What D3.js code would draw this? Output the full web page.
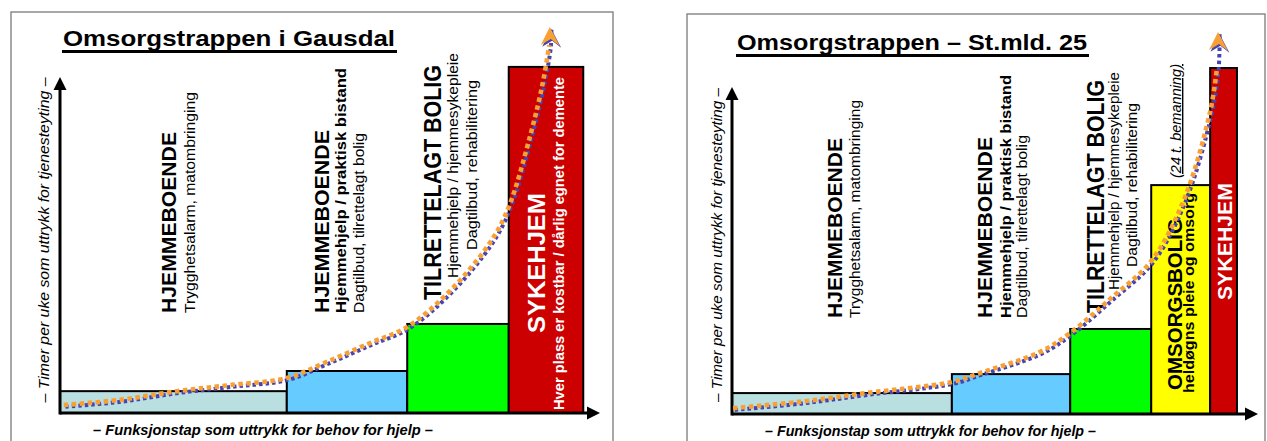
<!DOCTYPE html>
<html>
<head>
<meta charset="utf-8">
<script src="https://cdn.jsdelivr.net/npm/d3@7/dist/d3.min.js"></script>
<style>
  html, body { margin: 0; padding: 0; background: #fff; }
  svg { display: block; }
  text { font-family: "Liberation Sans", Arial, Helvetica, sans-serif; }
</style>
</head>
<body>
<div id="chart"></div>
<script>
// ---- Omsorgstrappen i Gausdal (four steps) ----
const gausdalSteps  = ["Hjemmeboende", "Hjemmeboende med hjemmehjelp", "Tilrettelagt bolig", "Sykehjem"];
const gausdalEdges  = [0, 42.0, 64.3, 83.1, 96.9];   // step boundaries, funksjonstap
const gausdalLevels = [6.5, 12.5, 26.5, 103.0];      // timer per uke (relative)
const gausdalTrendX = [0.7, 11.1, 21.7, 31.5, 42.0, 49.4, 57.4, 64.3, 72.0, 79.6, 83.1, 87.2, 89.4, 90.6, 90.7];
const gausdalTrendY = [2.4, 3.9, 6.5, 8.3, 10.4, 15.2, 20.8, 25.6, 36.0, 50.6, 61.3, 83.3, 98.2, 109.5, 114.9];

// ---- Omsorgstrappen – St.mld. 25 (five steps) ----
const stmldSteps  = ["Hjemmeboende", "Hjemmeboende med hjemmehjelp", "Tilrettelagt bolig", "Omsorgsbolig", "Sykehjem"];
const stmldEdges  = [0, 41.8, 64.3, 79.7, 90.9, 96.0];
const stmldLevels = [6.4, 12.2, 26.0, 70.0, 105.8];
const stmldTrendX = [0.2, 12.7, 25.5, 41.8, 47.1, 58.6, 64.3, 71.9, 79.7, 85.9, 90.9, 92.2, 92.4];
const stmldTrendY = [1.8, 3.7, 6.4, 9.8, 12.5, 19.0, 24.8, 35.2, 46.8, 65.4, 92.4, 105.8, 116.8];

const stepColors = {
  "Hjemmeboende": "#b9dfe1",
  "Hjemmeboende med hjemmehjelp": "#66ccff",
  "Tilrettelagt bolig": "#00ff00",
  "Omsorgsbolig": "#ffff00",
  "Sykehjem": "#cc0000"
};

const W = 1267, H = 441;
const svg = d3.select("#chart").append("svg")
  .attr("width", W).attr("height", H)
  .attr("viewBox", `0 0 ${W} ${H}`);
svg.append("rect").attr("width", W).attr("height", H).attr("fill", "#fff");

// Rotated (bottom-to-top) text helper
function vtext(g, o) {
  const t = g.append("text")
    .attr("transform", `translate(${o.x},${o.y}) rotate(-90)`)
    .attr("text-anchor", o.anchor || "start")
    .attr("font-size", o.size)
    .attr("font-weight", o.weight || "normal")
    .attr("font-style", o.style || "normal")
    .attr("fill", o.fill || "#000")
    .text(o.text);
  if (o.len) t.attr("textLength", o.len).attr("lengthAdjust", "spacingAndGlyphs");
  if (o.underline) t.attr("text-decoration", "underline");
  return t;
}

function drawPanel(p) {
  const g = svg.append("g");

  // frame
  g.append("rect")
    .attr("x", p.frame[0]).attr("y", p.frame[1])
    .attr("width", p.frame[2]).attr("height", p.frame[3])
    .attr("fill", "none").attr("stroke", "#7a7a7a").attr("stroke-width", 1.3);

  const x = d3.scaleLinear().domain([0, 100]).range([p.x0, p.x1]);
  const y = d3.scaleLinear().domain([0, 100]).range([p.y0, p.y1]);

  // title
  g.append("text")
    .attr("x", p.title.x).attr("y", p.title.y)
    .attr("font-size", 22).attr("font-weight", "bold")
    .attr("textLength", p.title.len).attr("lengthAdjust", "spacingAndGlyphs")
    .text(p.title.text);
  g.append("line")
    .attr("x1", p.title.x - 1).attr("x2", p.title.x + p.title.len + 2)
    .attr("y1", p.title.uy).attr("y2", p.title.uy)
    .attr("stroke", "#000").attr("stroke-width", 3);

  // steps
  const steps = p.steps.map((name, i) => ({
    name, x0: p.edges[i], x1: p.edges[i + 1], v: p.levels[i]
  }));
  g.selectAll("rect.step").data(steps).join("rect")
    .attr("class", "step")
    .attr("x", d => x(d.x0)).attr("y", d => y(d.v))
    .attr("width", d => x(d.x1) - x(d.x0))
    .attr("height", d => y(0) - y(d.v))
    .attr("fill", d => stepColors[d.name])
    .attr("stroke", "#000").attr("stroke-width", 2);

  // axes with arrow heads
  const ax = g.append("g");
  ax.append("line").attr("x1", x(0)).attr("x2", x(100) - 10)
    .attr("y1", y(0)).attr("y2", y(0)).attr("stroke", "#000").attr("stroke-width", 3);
  ax.append("line").attr("x1", x(0)).attr("x2", x(0))
    .attr("y1", y(0) + 1.5).attr("y2", y(100) + 10).attr("stroke", "#000").attr("stroke-width", 3);
  ax.append("path")
    .attr("d", `M${x(100)},${y(0)} L${x(100) - 13},${y(0) - 6.5} L${x(100) - 13},${y(0) + 6.5} Z`)
    .attr("fill", "#000");
  ax.append("path")
    .attr("d", `M${x(0)},${y(100)} L${x(0) - 6.5},${y(100) + 13} L${x(0) + 6.5},${y(100) + 13} Z`)
    .attr("fill", "#000");

  // axis titles
  vtext(g, { x: p.ylab.x, y: p.ylab.y, anchor: "middle", size: 15.5, style: "italic",
             len: p.ylab.len, text: "– Timer per uke som uttrykk for tjenesteyting –" });
  g.append("text")
    .attr("x", p.xlab.x).attr("y", p.xlab.y)
    .attr("font-size", 15).attr("font-style", "italic").attr("font-weight", "bold")
    .attr("textLength", p.xlab.len).attr("lengthAdjust", "spacingAndGlyphs")
    .text("– Funksjonstap som uttrykk for behov for hjelp –");

  // step labels
  p.labels.forEach(l => vtext(g, l));

  // trend curve (blue dots under orange dots)
  const pts = p.trendX.map((v, i) => [x(v), y(p.trendY[i])]);
  const line = d3.line().curve(d3.curveCatmullRom.alpha(0.5));
  g.append("path").attr("d", line(pts))
    .attr("transform", "translate(1.6,1.8)")
    .attr("fill", "none").attr("stroke", "#4444b4").attr("stroke-width", 4)
    .attr("stroke-dasharray", "3.5 3");
  g.append("path").attr("d", line(pts.slice(0, -1)))
    .attr("fill", "none").attr("stroke", "#f9a035").attr("stroke-width", 4.6)
    .attr("stroke-dasharray", "4.5 3.5");

  // arrow head at the end of the curve
  const [tx, ty] = pts[pts.length - 1];
  const head = `M${tx},${ty} L${tx + 10},${ty + 19} L${tx + 1},${ty + 12} L${tx - 9},${ty + 18} Z`;
  g.append("path").attr("d", head).attr("transform", "translate(1.4,1.8)").attr("fill", "#4444b4");
  g.append("path").attr("d", head).attr("fill", "#f9a035");
}

drawPanel({
  frame: [11, 12, 602, 440],
  x0: 60, x1: 600, y0: 413, y1: 77,
  title: { text: "Omsorgstrappen i Gausdal", x: 63, y: 46, len: 332, uy: 51.5 },
  ylab: { x: 49, y: 240, len: 325 },
  xlab: { x: 93, y: 435, len: 340 },
  steps: gausdalSteps, edges: gausdalEdges, levels: gausdalLevels,
  trendX: gausdalTrendX, trendY: gausdalTrendY,
  labels: [
    { text: "HJEMMEBOENDE", x: 176, y: 313, size: 21, weight: "bold", len: 181 },
    { text: "Trygghetsalarm, matombringing", x: 195, y: 313, size: 15.5, len: 221 },
    { text: "HJEMMEBOENDE", x: 329, y: 313, size: 21, weight: "bold", len: 183 },
    { text: "Hjemmehjelp / praktisk  bistand", x: 346, y: 313, size: 15, weight: "bold", len: 245 },
    { text: "Dagtilbud, tilrettelagt bolig", x: 364, y: 313, size: 15, len: 180 },
    { text: "TILRETTELAGT BOLIG", x: 441, y: 300, size: 23, weight: "bold", len: 235 },
    { text: "Hjemmehjelp / hjemmesykepleie", x: 458, y: 278, size: 15, len: 225 },
    { text: "Dagtilbud,  rehabilitering", x: 477, y: 250, size: 15, len: 170 },
    { text: "SYKEHJEM", x: 545, y: 333, size: 24, weight: "bold", fill: "#fff", len: 140 },
    { text: "Hver plass er kostbar / dårlig egnet for demente", x: 564, y: 410, size: 15, weight: "bold", fill: "#fff", len: 333 }
  ]
});

drawPanel({
  frame: [687, 14, 578, 440],
  x0: 732, x1: 1258, y0: 414, y1: 87,
  title: { text: "Omsorgstrappen – St.mld. 25", x: 737, y: 50, len: 350, uy: 55.5 },
  ylab: { x: 722, y: 245, len: 314 },
  xlab: { x: 765, y: 436, len: 331 },
  steps: stmldSteps, edges: stmldEdges, levels: stmldLevels,
  trendX: stmldTrendX, trendY: stmldTrendY,
  labels: [
    { text: "HJEMMEBOENDE", x: 842, y: 318, size: 20, weight: "bold", len: 180 },
    { text: "Trygghetsalarm, matombringing", x: 860, y: 318, size: 15, len: 218 },
    { text: "HJEMMEBOENDE", x: 992, y: 318, size: 20, weight: "bold", len: 181 },
    { text: "Hjemmehjelp / praktisk bistand", x: 1011, y: 318, size: 15, weight: "bold", len: 243 },
    { text: "Dagtilbud, tilrettelagt bolig", x: 1027, y: 318, size: 15, len: 183 },
    { text: "TILRETTELAGT BOLIG", x: 1104, y: 313, size: 24, weight: "bold", len: 233 },
    { text: "Hjemmehjelp / hjemmesykepleie", x: 1119, y: 290, size: 15, len: 218 },
    { text: "Dagtilbud, rehabilitering", x: 1137, y: 267, size: 15, len: 164 },
    { text: "(24 t. bemanning)", x: 1181, y: 178, size: 14, style: "italic", len: 114, underline: true },
    { text: "OMSORGSBOLIG", x: 1182, y: 390, size: 21, weight: "bold", len: 172 },
    { text: "heldøgns pleie og omsorg", x: 1194, y: 393, size: 14, weight: "bold", len: 200 },
    { text: "SYKEHJEM", x: 1232, y: 300, size: 20, weight: "bold", fill: "#fff", len: 117 }
  ]
});
</script>
</body>
</html>
